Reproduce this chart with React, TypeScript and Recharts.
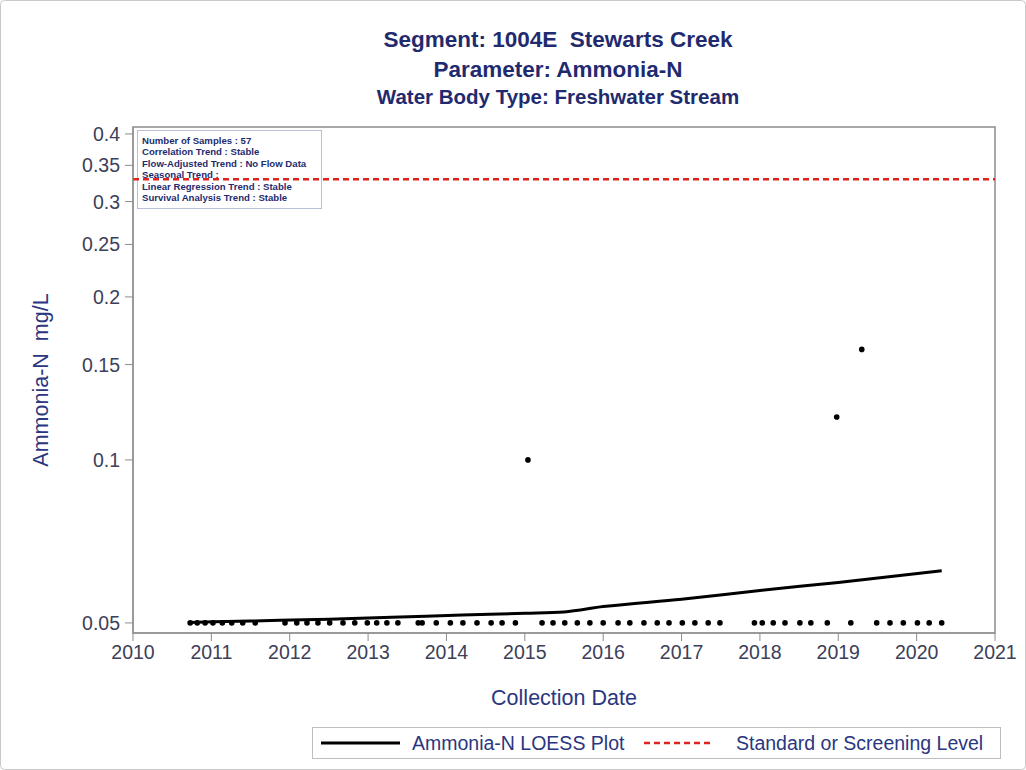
import React from "react";
import {
  ComposedChart,
  Line,
  Scatter,
  XAxis,
  YAxis,
  ReferenceLine,
  ReferenceArea,
} from "recharts";

// sample dates (decimal years) and measured values
const sampleYears = [
  2010.73, 2010.82, 2010.92, 2011.02, 2011.14, 2011.26, 2011.4, 2011.56,
  2011.94, 2012.09, 2012.22, 2012.36, 2012.51, 2012.68, 2012.83, 2012.99,
  2013.11, 2013.24, 2013.38, 2013.64, 2013.69, 2013.87, 2014.05, 2014.21,
  2014.39, 2014.57, 2014.71, 2014.88, 2015.04, 2015.22, 2015.36, 2015.51,
  2015.67, 2015.83, 2016.0, 2016.19, 2016.34, 2016.52, 2016.69, 2016.84,
  2017.01, 2017.17, 2017.34, 2017.49, 2017.93, 2018.03, 2018.17, 2018.32,
  2018.51, 2018.65, 2018.86, 2018.98, 2019.16, 2019.3, 2019.49, 2019.66,
  2019.83, 2020.01, 2020.16, 2020.32,
];
const sampleValues = [
  0.05, 0.05, 0.05, 0.05, 0.05, 0.05, 0.05, 0.05,
  0.05, 0.05, 0.05, 0.05, 0.05, 0.05, 0.05, 0.05,
  0.05, 0.05, 0.05, 0.05, 0.05, 0.05, 0.05, 0.05,
  0.05, 0.05, 0.05, 0.05, 0.1, 0.05, 0.05, 0.05,
  0.05, 0.05, 0.05, 0.05, 0.05, 0.05, 0.05, 0.05,
  0.05, 0.05, 0.05, 0.05, 0.05, 0.05, 0.05, 0.05,
  0.05, 0.05, 0.05, 0.12, 0.05, 0.16, 0.05, 0.05,
  0.05, 0.05, 0.05, 0.05,
];

// LOESS fit
const loessYears = [
  2010.7, 2011.5, 2012.5, 2013.3, 2014.2, 2015.0, 2015.5, 2016.0, 2017.0,
  2018.0, 2019.0, 2020.32,
];
const loessValues = [
  0.0501, 0.0504, 0.0508, 0.0512, 0.0517, 0.0521, 0.0524, 0.0536, 0.0553,
  0.0574, 0.0594, 0.0624,
];

const screeningLevel = 0.33;
const yearTicks = [2010, 2011, 2012, 2013, 2014, 2015, 2016, 2017, 2018, 2019, 2020, 2021];
const valueTicks = [0.05, 0.1, 0.15, 0.2, 0.25, 0.3, 0.35, 0.4];
const xDomain = [2010, 2021];
const yDomain = [0.0479, 0.412];

const titleLines = [
  "Segment: 1004E\u00a0\u00a0Stewarts Creek",
  "Parameter: Ammonia-N",
  "Water Body Type: Freshwater Stream",
];
const statsLines = [
  "Number of Samples : 57",
  "Correlation Trend : Stable",
  "Flow-Adjusted Trend : No Flow Data",
  "Seasonal Trend :",
  "Linear Regression Trend : Stable",
  "Survival Analysis Trend : Stable",
];

const W = 1026;
const H = 770;
const FONT = "'Liberation Sans', Arial, Helvetica, sans-serif";
const NAVY = "#1f2b6e";
const LABEL = "#2b3680";
const TICK = "#3c4058";
const AXIS = "#8c8c8c";
const RED = "#e0231c";

const samples = sampleYears.map((year, i) => ({ year, value: sampleValues[i] }));
const loess = loessYears.map((year, i) => ({ year, value: loessValues[i] }));

const Dot = (p: any) => <circle cx={p.cx} cy={p.cy} r={2.8} fill="#000" />;

export default function App() {
  return (
    <div
      style={{
        position: "absolute",
        left: 0,
        top: 0,
        width: W,
        height: H,
        background: "#fff",
      }}
    >
      {/* titles, stats box and legend sit under the plot */}
      <svg
        width={W}
        height={H}
        style={{ position: "absolute", left: 0, top: 0, fontFamily: FONT }}
      >
        <rect x={0.5} y={0.5} width={W - 1} height={H - 1} rx={4} fill="#fff" stroke="#c9c9c9" />
        {titleLines.map((t, i) => (
          <text
            key={t}
            x={558}
            y={[47, 77, 104][i]}
            textAnchor="middle"
            fontSize={i === 2 ? 20.5 : 22.5}
            fontWeight="bold"
            fill={NAVY}
          >
            {t}
          </text>
        ))}
        <rect x={137.5} y={130.5} width={184} height={78} fill="#fff" stroke="#b9c0d8" />
        {statsLines.map((t, i) => (
          <text key={t} x={142} y={144 + i * 11.4} fontSize={9.6} fontWeight="bold" fill={NAVY}>
            {t}
          </text>
        ))}
        <rect x={312.5} y={727.5} width={688} height={31} fill="#fff" stroke="#bdbdbd" />
        <line x1={321} x2={400} y1={743} y2={743} stroke="#000" strokeWidth={3} />
        <text x={412} y={750} fontSize={19.5} fill={LABEL}>
          Ammonia-N LOESS Plot
        </text>
        <line x1={644} x2={713} y1={743} y2={743} stroke={RED} strokeWidth={2.5} strokeDasharray="6 4" />
        <text x={736} y={750} fontSize={19.5} fill={LABEL}>
          Standard or Screening Level
        </text>
      </svg>

      <ComposedChart
        width={W}
        height={H}
        margin={{ top: 127, right: 31, bottom: 62, left: 33 }}
        style={{ position: "absolute", left: 0, top: 0 }}
      >
        <ReferenceArea
          x1={xDomain[0]}
          x2={xDomain[1]}
          y1={yDomain[0]}
          y2={yDomain[1]}
          fill="none"
          stroke={AXIS}
          strokeWidth={1.5}
        />
        <XAxis
          dataKey="year"
          type="number"
          domain={xDomain}
          ticks={yearTicks}
          allowDataOverflow
          height={75}
          tickSize={8}
          tickMargin={4}
          stroke={AXIS}
          tick={{ fontSize: 19.5, fill: TICK, fontFamily: FONT }}
          label={{
            value: "Collection Date",
            position: "insideBottom",
            offset: 3,
            fill: LABEL,
            fontSize: 21.5,
            fontFamily: FONT,
          }}
        />
        <YAxis
          type="number"
          scale="log"
          domain={yDomain}
          ticks={valueTicks}
          allowDataOverflow
          width={100}
          tickSize={8}
          tickMargin={5}
          stroke={AXIS}
          tickFormatter={(v) => String(v)}
          tick={{ fontSize: 19.5, fill: TICK, fontFamily: FONT }}
          label={{
            value: "Ammonia-N\u00a0\u00a0mg/L",
            angle: -90,
            position: "insideLeft",
            offset: 7,
            fill: LABEL,
            fontSize: 21.5,
            fontFamily: FONT,
            style: { textAnchor: "middle" },
          }}
        />
        <ReferenceLine
          y={screeningLevel}
          stroke={RED}
          strokeWidth={2.5}
          strokeDasharray="6 4"
        />
        <Line
          data={loess}
          dataKey="value"
          type="monotone"
          stroke="#000"
          strokeWidth={3}
          dot={false}
          isAnimationActive={false}
        />
        <Scatter data={samples} dataKey="value" shape={Dot} isAnimationActive={false} />
      </ComposedChart>
    </div>
  );
}
